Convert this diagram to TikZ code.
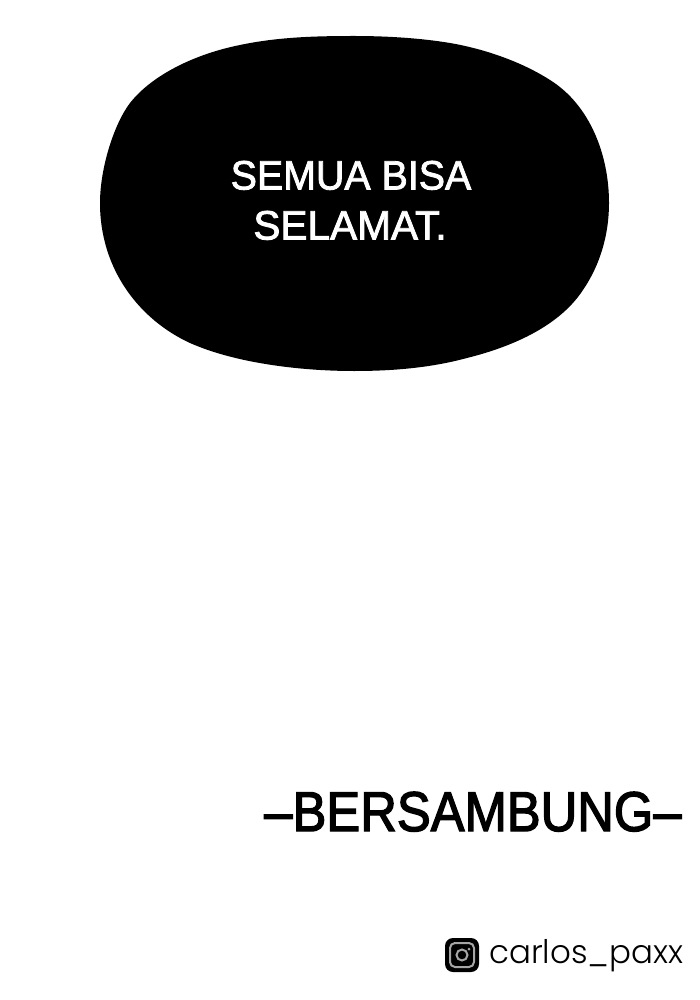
\documentclass[tikz,border=0pt]{standalone}
\usepackage{fontspec}
\setmainfont{Liberation Sans}
\newfontfamily\bubblefont[FakeBold=2]{Liberation Sans}
\newfontfamily\endfont[FakeBold=2.5]{Liberation Sans}
\newfontfamily\tagfont{Poppins Light}
\begin{document}
\begin{tikzpicture}[x=1pt,y=-1pt,
 bubbletext/.style={text=white,inner sep=0pt,anchor=base,font=\bubblefont\fontsize{41}{50}\selectfont},
 endtext/.style={inner sep=0pt,anchor=base},
 tagtext/.style={inner sep=0pt,anchor=base west}]
\useasboundingbox (0,0) rectangle (700,1000);
\fill[white] (0,0) rectangle (700,1000);
\fill[black] (100,203) .. controls (100,168) and (114,124) .. (130,103)
 .. controls (152,75) and (195,54) .. (240,45)
 .. controls (278,37) and (316,36) .. (354,36)
 .. controls (386,36) and (420,38) .. (450,43)
 .. controls (485,49) and (522,62) .. (550,80)
 .. controls (590,105) and (609,155) .. (609,203)
 .. controls (609,235) and (600,265) .. (583,290)
 .. controls (560,325) and (515,346) .. (467,358)
 .. controls (430,368) and (392,371) .. (354,371)
 .. controls (300,371) and (235,363) .. (190,343)
 .. controls (140,320) and (100,270) .. (100,203) -- cycle;
\node[bubbletext,xscale=0.96] (t1) at (351,189.5) {SEMUA BISA};
\node[bubbletext,xscale=0.99] (t2) at (350,239.5) {SELAMAT.};
\node[endtext,xscale=0.906,font=\endfont\fontsize{56}{60}\selectfont] (b) at (473,831) {–BERSAMBUNG–};
\node[tagtext,font=\tagfont\fontsize{32.5}{36}\selectfont] (c) at (489,963.5) {carlos\_paxx};
\fill[black,rounded corners=8pt] (445,938) rectangle (479,972);
\draw[gray!70,line width=2pt,rounded corners=5pt] (450,943) rectangle (474,967);
\draw[gray!70,line width=2pt] (462,955) circle (5.5);
\fill[gray!70] (469,949) circle (1.5);
\end{tikzpicture}
\end{document}
